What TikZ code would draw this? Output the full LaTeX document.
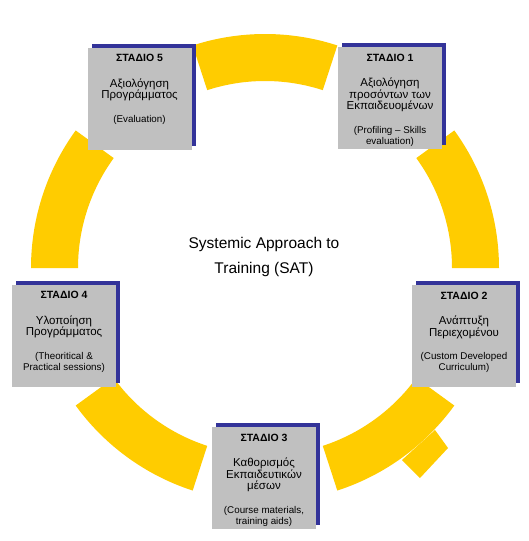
\documentclass[tikz,border=0pt]{standalone}
\usepackage{fontspec}
\setmainfont{Liberation Sans}
\usetikzlibrary{calc}
\definecolor{ringyellow}{RGB}{255,204,0}
\definecolor{boxgray}{RGB}{192,192,192}
\definecolor{shadownavy}{RGB}{51,51,153}
\tikzset{
  graybox/.style={fill=boxgray, draw=none, minimum width=104pt, minimum height=102pt, inner sep=0pt},
  shadowbox/.style={fill=shadownavy, draw=none, minimum width=104pt, minimum height=102pt, inner sep=0pt},
  titletext/.style={anchor=base, inner sep=0pt, font=\fontsize{10.5}{12}\selectfont\bfseries},
  bodytext/.style={anchor=base, inner sep=0pt, font=\fontsize{11.5}{13}\selectfont},
  parentext/.style={anchor=base, inner sep=0pt, font=\fontsize{9.8}{11}\selectfont},
  centertext/.style={anchor=base, inner sep=0pt, font=\fontsize{15.5}{18}\selectfont},
}
\newcommand\stagebox[5]{%
  \node[shadowbox] (#1s) at ($#2+(4,-4)$) {};
  \node[graybox] (#1) at #2 {};
  \node[titletext] (#1t) at ($(#1.north)+(0,14.5)$) {ΣΤΑΔΙΟ #3};
  \foreach \l [count=\i] in {#4} {
    \node[bodytext] (#1b\i) at ($(#1.north)+(0,{40+(\i-1)*11.5})$) {\l};
    \xdef\nb{\i}
  }
  \foreach \l [count=\j] in {#5} {
    \node[parentext] (#1p\j) at ($(#1.north)+(0,{40+(\nb-1)*11.5+23.5+(\j-1)*11})$) {\l};
  }
}
\begin{document}
\begin{tikzpicture}[x=1pt,y=-1pt]
\useasboundingbox (0,0) rectangle (529,541);
\fill[white] (0,0) rectangle (529,541);
\coordinate (c) at (265,268);
\foreach \a in {36,108,180,252,324} {
  \fill[ringyellow] ($(c)+(\a:234)$) arc[start angle=\a, end angle=\a+36, radius=234]
    -- ($(c)+(\a+36:187)$) arc[start angle=\a+36, end angle=\a, radius=187] -- cycle;
}
\fill[ringyellow] (435,430) -- (448,448) -- (420,478) -- (402,460) -- cycle;

\stagebox{s5}{(139.5,98.5)}{5}{Αξιολόγηση,Προγράμματος}{{(Evaluation)}}
\stagebox{s1}{(390,98)}{1}{Αξιολόγηση,προσόντων των,Εκπαιδευομένων}{{(Profiling – Skills},evaluation)}
\stagebox{s2}{(464,336)}{2}{Ανάπτυξη,Περιεχομένου}{{(Custom Developed},Curriculum)}
\stagebox{s4}{(64,335.5)}{4}{Υλοποίηση,Προγράμματος}{{(Theoritical \&},Practical sessions)}
\stagebox{s3}{(264,478)}{3}{Καθορισμός,Εκπαιδευτικών,μέσων}{{(Course materials,},training aids)}

\node[centertext] (sat1) at (264,248) {Systemic Approach to};
\node[centertext] (sat2) at (264,273) {Training (SAT)};
\end{tikzpicture}
\end{document}
